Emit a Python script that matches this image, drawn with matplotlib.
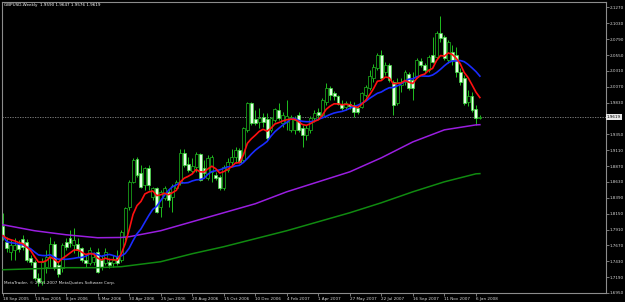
import numpy as np
import pandas as pd
import matplotlib
matplotlib.use("Agg")
import matplotlib.pyplot as plt

# ---------------------
# weekly GBPUSD bars, 18 Sep 2005 -> 13 Jan 2008
# ---------------------
opens = [1.7967, 1.7725, 1.7574, 1.7604, 1.7695, 1.7771, 1.7725, 1.7484, 1.7423, 1.7181,
         1.7121, 1.7348, 1.7499, 1.7695, 1.7378, 1.7333, 1.7725, 1.7786, 1.7680, 1.7695,
         1.7635, 1.7453, 1.7408, 1.7423, 1.7574, 1.7453, 1.7408, 1.7423, 1.7408, 1.7499,
         1.7453, 1.7801, 1.8254, 1.8632, 1.8979, 1.8768, 1.8587, 1.8844, 1.8405, 1.8541,
         1.8254, 1.8390, 1.8481, 1.8405, 1.8541, 1.8617, 1.9070, 1.8904, 1.8798, 1.8859,
         1.9055, 1.8844, 1.8692, 1.8783, 1.8738, 1.8708, 1.8541, 1.8813, 1.8934, 1.9010,
         1.9115, 1.8964, 1.9418, 1.9826, 1.9584, 1.9539, 1.9614, 1.9584, 1.9418, 1.9569,
         1.9720, 1.9523, 1.9539, 1.9418, 1.9418, 1.9644, 1.9448, 1.9342, 1.9418, 1.9599,
         1.9690, 1.9644, 1.9841, 2.0052, 1.9977, 1.9931, 1.9811, 1.9765, 1.9811, 1.9795,
         1.9750, 1.9765, 1.9947, 2.0052, 2.0203, 2.0355, 2.0551, 2.0294, 2.0400, 2.0143,
         1.9826, 2.0098, 2.0143, 2.0264, 2.0173, 2.0219, 2.0460, 2.0400, 2.0324, 2.0551,
         2.0521, 2.0883, 2.0823, 2.0475, 2.0596, 2.0551, 2.0294, 2.0203, 1.9841, 1.9931,
         1.9735, 1.9590]
highs = [1.8164, 1.7801, 1.7756, 1.7786, 1.7756, 1.7831, 1.7771, 1.7529, 1.7453, 1.7257,
         1.7484, 1.7604, 1.7801, 1.7740, 1.7423, 1.7710, 1.7786, 1.7907, 1.7937, 1.7786,
         1.7650, 1.7529, 1.7650, 1.7574, 1.7635, 1.7529, 1.7635, 1.7484, 1.7529, 1.7604,
         1.7907, 1.8254, 1.8662, 1.8995, 1.9010, 1.8889, 1.8859, 1.8889, 1.8556, 1.8556,
         1.8511, 1.8572, 1.8526, 1.8602, 1.8662, 1.9131, 1.9131, 1.9010, 1.8995, 1.9085,
         1.9070, 1.8964, 1.9040, 1.9040, 1.8783, 1.8738, 1.8889, 1.8995, 1.9131, 1.9161,
         1.9146, 1.9463, 1.9841, 1.9841, 1.9720, 1.9750, 1.9675, 1.9675, 1.9614, 1.9750,
         1.9826, 1.9690, 1.9871, 1.9644, 1.9629, 1.9690, 1.9493, 1.9493, 1.9629, 1.9720,
         1.9750, 1.9901, 2.0128, 2.0083, 2.0007, 1.9947, 1.9871, 1.9856, 1.9856, 1.9841,
         1.9780, 1.9992, 2.0098, 2.0324, 2.0415, 2.0581, 2.0627, 2.0445, 2.0430, 2.0173,
         2.0203, 2.0203, 2.0324, 2.0294, 2.0294, 2.0506, 2.0506, 2.0430, 2.0551, 2.0823,
         2.0914, 2.1140, 2.0853, 2.0778, 2.0702, 2.0672, 2.0355, 2.0249, 2.0022, 1.9992,
         1.9795, 1.9647]
lows = [1.7756, 1.7574, 1.7453, 1.7453, 1.7574, 1.7604, 1.7423, 1.7378, 1.7151, 1.7061,
        1.7076, 1.7257, 1.7348, 1.7302, 1.7197, 1.7272, 1.7604, 1.7650, 1.7559, 1.7499,
        1.7423, 1.7348, 1.7378, 1.7378, 1.7257, 1.7302, 1.7378, 1.7333, 1.7348, 1.7378,
        1.7423, 1.7756, 1.8209, 1.8617, 1.8708, 1.8541, 1.8511, 1.8511, 1.8360, 1.8164,
        1.8103, 1.8360, 1.8254, 1.8179, 1.8511, 1.8587, 1.8859, 1.8783, 1.8768, 1.8783,
        1.8647, 1.8708, 1.8662, 1.8632, 1.8662, 1.8511, 1.8511, 1.8783, 1.8889, 1.8919,
        1.8919, 1.8934, 1.9387, 1.9493, 1.9493, 1.9448, 1.9463, 1.9267, 1.9387, 1.9539,
        1.9569, 1.9463, 1.9418, 1.9387, 1.9357, 1.9387, 1.9161, 1.9267, 1.9372, 1.9539,
        1.9599, 1.9614, 1.9795, 1.9871, 1.9871, 1.9795, 1.9720, 1.9720, 1.9735, 1.9614,
        1.9659, 1.9750, 1.9916, 2.0022, 2.0143, 2.0324, 2.0173, 2.0249, 2.0143, 1.9644,
        1.9795, 1.9992, 2.0098, 2.0022, 1.9871, 2.0203, 2.0370, 2.0279, 2.0294, 2.0430,
        2.0491, 2.0747, 2.0475, 2.0430, 2.0400, 2.0219, 2.0098, 1.9795, 1.9780, 1.9690,
        1.9493, 1.9576]
closes = [1.7816, 1.7635, 1.7680, 1.7680, 1.7620, 1.7650, 1.7453, 1.7423, 1.7181, 1.7121,
          1.7423, 1.7499, 1.7695, 1.7333, 1.7242, 1.7680, 1.7650, 1.7710, 1.7756, 1.7604,
          1.7453, 1.7408, 1.7604, 1.7499, 1.7272, 1.7348, 1.7574, 1.7378, 1.7453, 1.7408,
          1.7876, 1.8239, 1.8632, 1.8964, 1.8738, 1.8556, 1.8844, 1.8587, 1.8541, 1.8179,
          1.8481, 1.8541, 1.8360, 1.8572, 1.8632, 1.9070, 1.8889, 1.8813, 1.8874, 1.9055,
          1.8662, 1.8768, 1.8995, 1.9010, 1.8692, 1.8541, 1.8859, 1.8934, 1.9010, 1.9115,
          1.8934, 1.9448, 1.9826, 1.9523, 1.9523, 1.9599, 1.9539, 1.9297, 1.9599, 1.9735,
          1.9599, 1.9644, 1.9629, 1.9614, 1.9569, 1.9418, 1.9342, 1.9448, 1.9599, 1.9675,
          1.9644, 1.9871, 2.0052, 1.9947, 1.9931, 1.9811, 1.9750, 1.9826, 1.9780, 1.9690,
          1.9690, 1.9977, 2.0067, 2.0234, 2.0370, 2.0551, 2.0203, 2.0400, 2.0173, 1.9795,
          2.0143, 2.0143, 2.0294, 2.0052, 2.0052, 2.0475, 2.0400, 2.0324, 2.0521, 2.0445,
          2.0883, 2.0808, 2.0506, 2.0747, 2.0475, 2.0294, 2.0143, 1.9826, 1.9931, 1.9720,
          1.9599, 1.9619]

# long moving averages (purple, green) read at a few bars
ma_bars = [0, 8, 16, 24, 30, 32, 40, 48, 56, 64, 72, 80, 88, 96, 104, 112, 120, 121]
ma_purple = [1.7982, 1.7892, 1.7831, 1.7786, 1.7790, 1.7801, 1.7892, 1.8028, 1.8164, 1.8300,
             1.8481, 1.8632, 1.8783, 1.8995, 1.9236, 1.9418, 1.9493, 1.9496]
ma_green = [1.7302, 1.7317, 1.7333, 1.7333, 1.7348, 1.7363, 1.7423, 1.7544, 1.7650, 1.7771,
            1.7892, 1.8028, 1.8164, 1.8315, 1.8481, 1.8632, 1.8753, 1.8756]

date_ticks = [0, 8, 16, 24, 32, 40, 48, 56, 64, 72, 80, 88, 96, 104, 112, 120]
date_labels = ["18 Sep 2005", "13 Nov 2005", "8 Jan 2006", "5 Mar 2006", "30 Apr 2006",
               "25 Jun 2006", "20 Aug 2006", "15 Oct 2006", "10 Dec 2006", "4 Feb 2007",
               "1 Apr 2007", "27 May 2007", "22 Jul 2007", "16 Sep 2007", "11 Nov 2007",
               "6 Jan 2008"]
price_ticks = [round(1.6950 + 0.024 * k, 4) for k in range(19)]
last_price = 1.9619

# ---------------------
# figure
# ---------------------
W, H = 625, 302
fig = plt.figure(figsize=(W / 100, H / 100), dpi=100, facecolor="black")
ax = fig.add_axes([2 / W, 9 / H, 604 / W, 291 / H])
ax.set_facecolor("black")
ax.set_xlim(-0.25, 153.0)
ax.set_ylim(1.6950, 2.1352)

for s in ax.spines.values():
    s.set_color("#8c8c8c")
    s.set_linewidth(0.8)

x = np.arange(len(closes))
o = np.array(opens); h = np.array(highs); l = np.array(lows); c = np.array(closes)

wick_col = "#1fbf1f"
ax.vlines(x, l, h, color=wick_col, lw=0.7, zorder=2)
up = c >= o
bw = 0.75
ax.bar(x[up], (c - o)[up], bottom=o[up], width=bw, color="black",
       edgecolor=wick_col, linewidth=0.5, zorder=3)
ax.bar(x[~up], (o - c)[~up], bottom=c[~up], width=bw, color="#e4ffe4",
       edgecolor="#3fdf3f", linewidth=0.5, zorder=3)

# moving averages
cs = pd.Series(closes)
red = cs.ewm(span=8, adjust=False).mean()
blue = cs.rolling(13, min_periods=1).mean()
ax.plot(ma_bars, ma_green, color="#108a10", lw=1.1, zorder=4)
ax.plot(ma_bars, ma_purple, color="#9a1ee0", lw=1.1, zorder=4)
ax.plot(x, blue, color="#1a2cff", lw=1.2, zorder=5)
ax.plot(x, red, color="#ff1010", lw=1.2, zorder=6)

# current price line
ax.axhline(last_price, color="#8c8c8c", lw=0.6, ls=(0, (1.5, 1.5)), zorder=1)

# axes ticks
ax.yaxis.tick_right()
ax.set_yticks(price_ticks)
ax.set_yticklabels(["" if abs(p - 1.9590) < 1e-6 else f"{p:.4f}" for p in price_ticks])
ax.tick_params(axis="y", colors="#8c8c8c", labelcolor="#d8d8d8", labelsize=3,
               length=2, width=0.6, pad=0.8)
ax.set_xticks(date_ticks)
ax.set_xticklabels(date_labels, ha="left")
ax.tick_params(axis="x", colors="#8c8c8c", labelcolor="#d8d8d8", labelsize=3,
               length=2, width=0.6, pad=0.6)

fig.text(607 / W, 1 - 117 / H, f"{last_price:.4f}", fontsize=3, color="black",
         va="center", ha="left",
         bbox=dict(boxstyle="square,pad=0.15", fc="#e8e8e8", ec="none"))

fig.text(4 / W, 1 - 5 / H, "GBPUSD,Weekly  1.9590 1.9647 1.9576 1.9619",
         fontsize=3, color="white", va="center", ha="left")
fig.text(4 / W, 1 - 283 / H, "MetaTrader, © 2001-2007 MetaQuotes Software Corp.",
         fontsize=3, color="#e0e0e0", va="center", ha="left")

fig.savefig("out.png", dpi=100, facecolor="black")
